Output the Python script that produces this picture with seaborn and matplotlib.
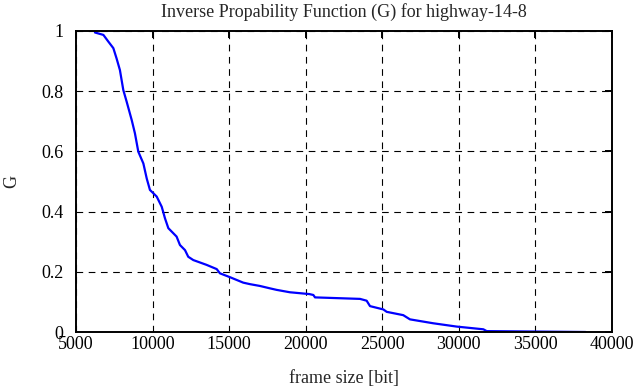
import pandas as pd
import seaborn as sns
import matplotlib.pyplot as plt

# values
frame_size = [6240, 6790, 7110, 7440, 7650, 7870, 8090, 8310, 8640, 8850,
              9070, 9400, 9620, 9830, 10270, 10600, 10810, 11030, 11570, 11790,
              12120, 12330, 12660, 13530, 14190, 14400, 15060, 15920, 16360, 17010,
              17670, 18100, 18970, 19190, 20240, 20500, 20610, 23550, 23980, 24200,
              25070, 25290, 26370, 26810, 28330, 29860, 31600, 31820, 38280]
g_values = [0.995, 0.987, 0.965, 0.943, 0.909, 0.870, 0.804, 0.765, 0.704, 0.660,
            0.599, 0.560, 0.510, 0.472, 0.450, 0.416, 0.378, 0.345, 0.317, 0.289,
            0.272, 0.250, 0.239, 0.223, 0.209, 0.195, 0.182, 0.164, 0.159, 0.153,
            0.145, 0.140, 0.132, 0.131, 0.126, 0.123, 0.115, 0.110, 0.104, 0.086,
            0.075, 0.067, 0.056, 0.042, 0.029, 0.018, 0.009, 0.003, 0.0]
x_ticks = [5000, 10000, 15000, 20000, 25000, 30000, 35000, 40000]
y_ticks = [0, 0.2, 0.4, 0.6, 0.8, 1]
y_labels = ["0", "0.2", "0.4", "0.6", "0.8", "1"]

df = pd.DataFrame({"frame size [bit]": frame_size, "G": g_values})

sns.set_style("white")
plt.rcParams["font.family"] = ["Liberation Serif", "DejaVu Serif"]
plt.rcParams["font.size"] = 13

fig = plt.figure(figsize=(6.39, 3.87), dpi=100)
ax = fig.add_axes([0.1189, 0.1421, 0.8388, 0.7778])

sns.lineplot(data=df, x="frame size [bit]", y="G", color="#0000ff",
             linewidth=1.6, estimator=None, sort=False, ax=ax)

ax.set_xlim(5000, 40000)
ax.set_ylim(0, 1)
ax.set_xticks(x_ticks)
ax.set_yticks(y_ticks)
ax.set_yticklabels(y_labels)
ax.grid(True, color="black", linestyle=(0, (6, 5)), linewidth=0.8)
for s in ax.spines.values():
    s.set_color("black")
    s.set_linewidth(1.4)
ax.tick_params(axis="both", direction="in", length=5, width=1.4, top=True,
               right=True, colors="black", labelsize=13)
ax.tick_params(axis="x", pad=3)
ax.tick_params(axis="y", pad=9)
ax.set_title("Inverse Propability Function (G) for highway-14-8", fontsize=13, pad=10)
ax.set_xlabel("frame size [bit]", fontsize=13, labelpad=12)
ax.set_ylabel("G", fontsize=13, labelpad=15)

fig.savefig("out.png", dpi=100)
